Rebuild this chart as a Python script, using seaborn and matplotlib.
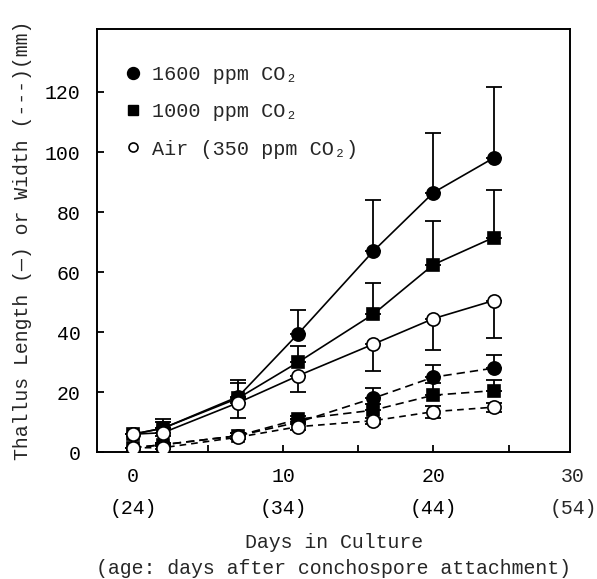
#!/usr/bin/env python3
import matplotlib

matplotlib.use("Agg")

import matplotlib.pyplot as plt
from matplotlib.lines import Line2D
import seaborn as sns

sns.set_theme(style="ticks")
plt.rcParams["font.family"] = ["Liberation Mono", "DejaVu Sans Mono"]
plt.rcParams["font.size"] = 14.3

# Data
days = [0, 2, 7, 11, 16, 20, 24]
treatments = ["1600 ppm CO₂", "1000 ppm CO₂", "Air (350 ppm CO₂)"]

# thallus length (solid lines), mm
length_1600 = [6, 8, 18.5, 39.5, 67, 86.5, 98]
length_1000 = [6, 8, 18, 30, 46, 62.5, 71.5]
length_air = [6, 6.5, 16.5, 25.5, 36, 44.5, 50.5]
# upper / lower error of length
length_err_1600 = [0, 3, 5.5, 8, 17, 20, 23.5]
length_err_1000 = [0, 2, 5, 5.5, 10.5, 14.5, 16]
length_err_air = [0, 1, 5, 5.5, 9, 10.5, 12.5]

# thallus width (dashed lines), mm
width_1600 = [1.5, 2.5, 5.5, 10, 18, 25, 28]
width_1000 = [1.5, 2.5, 5.5, 11, 14, 19, 20.5]
width_air = [1.5, 1.5, 5, 8.5, 10.5, 13.5, 15]
width_err_1600 = [0, 0.5, 1, 1, 3.5, 4, 4.5]
width_err_1000 = [0, 0.5, 1, 1, 2, 4, 3.5]
width_err_air = [0, 0.5, 0.5, 1, 1, 2, 1.5]

x_ticks = [0, 5, 10, 15, 20, 25]
x_ticklabels = ["0\n(24)", "", "10\n(34)", "", "20\n(44)", ""]
x_edge_label = "30\n(54)"
y_ticks = [0, 20, 40, 60, 80, 100, 120]

zeros = [0] * len(days)
series = [
    # values, err below, err above, marker, face, linestyle
    (length_1600, zeros, length_err_1600, "o", "black", "-"),
    (length_1000, zeros, length_err_1000, "s", "black", "-"),
    (length_air, length_err_air, zeros, "o", "white", "-"),
    (width_1600, zeros, width_err_1600, "o", "black", (0, (5, 3))),
    (width_1000, zeros, width_err_1000, "s", "black", (0, (5, 3))),
    (width_air, width_err_air, width_err_air, "o", "white", (0, (4, 3))),
]

fig = plt.figure(figsize=(5.97, 5.79), dpi=100)
ax = fig.add_axes([0.1625, 0.219, 0.7925, 0.731])

for vals, lo, hi, mk, face, ls in series:
    ax.errorbar(days, vals, yerr=[lo, hi], fmt="none", ecolor="black",
                elinewidth=1.3, capsize=5.5, capthick=1.3, zorder=2)
    ms = 8 if mk == "s" else 9.5
    sns.lineplot(x=days, y=vals, ax=ax, color="black", linestyle=ls,
                 linewidth=1.2, marker=mk, markersize=ms,
                 markerfacecolor=face, markeredgecolor="black",
                 markeredgewidth=1.2, zorder=4 if face == "white" else 3)

ax.set_xlim(-2.4, 29.1)
ax.set_ylim(0, 141)
ax.set_xticks(x_ticks)
ax.set_xticklabels(x_ticklabels)
for lbl in ax.get_xticklabels():
    lbl.set_linespacing(1.85)
ax.set_yticks(y_ticks)

tick_pad = 11
ax.tick_params(direction="in", length=5, width=1.3, colors="black",
               labelsize=14.3)
ax.tick_params(axis="x", pad=tick_pad)
ax.tick_params(axis="y", pad=12)
for sp in ax.spines.values():
    sp.set_visible(True)
    sp.set_linewidth(1.4)
    sp.set_color("black")

# "30 (54)" label sits at the right frame edge
ax.annotate(x_edge_label, xy=(1.0, 0), xycoords="axes fraction",
            xytext=(2, -tick_pad), textcoords="offset points",
            ha="center", va="top", fontsize=14.3, linespacing=1.85)

ax.set_xlabel("Days in Culture\n(age: days after conchospore attachment)",
              fontsize=14.3, labelpad=10.5, linespacing=1.5)
ax.set_ylabel("Thallus Length (—) or Width (---)(mm)", fontsize=14.3,
              labelpad=9)

handles = [
    Line2D([], [], marker="o", color="black", ls="none", markersize=8.6),
    Line2D([], [], marker="s", color="black", ls="none", markersize=7.2),
    Line2D([], [], marker="o", color="black", markerfacecolor="white",
           ls="none", markersize=6.5, markeredgewidth=1.2),
]
ax.legend(handles, treatments, loc="upper left", frameon=False,
          bbox_to_anchor=(0, 0.976), handletextpad=0.45, handlelength=1.0,
          labelspacing=0.9, borderaxespad=0.9, fontsize=14.5)

fig.savefig("out.png", dpi=100)
plt.close(fig)
